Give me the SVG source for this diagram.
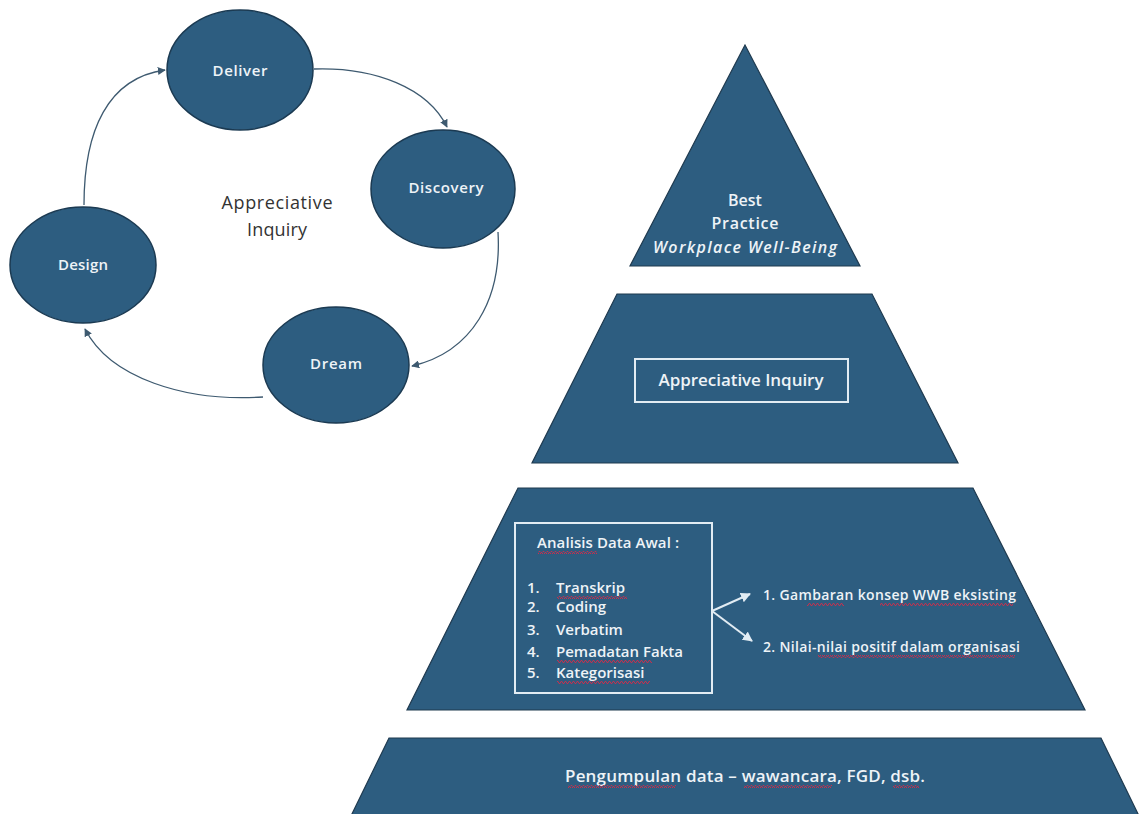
<svg xmlns="http://www.w3.org/2000/svg" width="1139" height="814" viewBox="0 0 1139 814">
<style>
.node{fill:#2d5d80;stroke:#1b3a52;stroke-width:1.5}
.lbl{font-family:"Open Sans","Liberation Sans",sans-serif;fill:#eef3f7;text-anchor:middle;font-weight:600}
.dark{font-family:"Open Sans","Liberation Sans",sans-serif;fill:#333;text-anchor:middle;font-size:18px}
.layer{fill:#2d5d80;stroke:#1f3a4f;stroke-width:1.2}
.wt{font-family:"Open Sans","Liberation Sans",sans-serif;fill:#eef3f7;font-weight:600}
.box{fill:none;stroke:#e2ecf3;stroke-width:2}
.conn{fill:none;stroke:#3e5a70;stroke-width:1.3}
.warr{fill:none;stroke:#e2ecf3;stroke-width:2}
.sq{fill:url(#wave)}
</style>
<defs>
<marker id="ah" viewBox="0 0 10 10" refX="9" refY="5" markerWidth="8" markerHeight="8" markerUnits="userSpaceOnUse" orient="auto">
<path d="M0,0 L10,5 L0,10 z" fill="#3e5a70"/>
</marker>
<marker id="wah" viewBox="0 0 10 10" refX="9" refY="5" markerWidth="10" markerHeight="10" markerUnits="userSpaceOnUse" orient="auto">
<path d="M0,0 L10,5 L0,10 z" fill="#e2ecf3"/>
</marker>
<pattern id="wave" width="4" height="3" patternUnits="userSpaceOnUse">
<path d="M0,2.5 L1,0.5 L2,0.5 L3,2.5 L4,2.5" fill="none" stroke="#c4304e" stroke-width="1"/>
</pattern>
</defs>
<rect width="1139" height="814" fill="#ffffff"/>

<g id="connectors">
<path class="conn" d="M314,69 C375,67 428,88 447,127" marker-end="url(#ah)"/>
<path class="conn" d="M498,232 C502,300 472,352 412,366" marker-end="url(#ah)"/>
<path class="conn" d="M263,397 C185,402 110,378 85,329" marker-end="url(#ah)"/>
<path class="conn" d="M84,205 C84,130 108,78 165,70" marker-end="url(#ah)"/>
</g>

<g id="deliver"><ellipse class="node" cx="240" cy="70" rx="73" ry="60"/><text class="lbl" x="240" y="76" font-size="15" textLength="55">Deliver</text></g>
<g id="discovery"><ellipse class="node" cx="443" cy="189" rx="72" ry="59"/><text class="lbl" x="446" y="193" font-size="15" textLength="75">Discovery</text></g>
<g id="design"><ellipse class="node" cx="83" cy="265" rx="73" ry="58"/><text class="lbl" x="83" y="270" font-size="15" textLength="50">Design</text></g>
<g id="dream"><ellipse class="node" cx="336" cy="365" rx="73" ry="58"/><text class="lbl" x="336" y="369" font-size="15" textLength="52">Dream</text></g>
<g id="center-label"><text class="dark" x="277" y="209" textLength="111">Appreciative</text><text class="dark" x="277" y="236" textLength="60">Inquiry</text></g>

<g id="layer-top">
<polygon class="layer" points="745,45 630,266 860,266"/>
<text class="lbl" x="745" y="206" font-size="16">Best</text>
<text class="lbl" x="745" y="229" font-size="16" textLength="67">Practice</text>
<text class="lbl" x="745" y="253" font-size="16" font-style="italic" textLength="184">Workplace Well-Being</text>
</g>

<g id="layer-ai">
<polygon class="layer" points="617,294 872,294 958,463 532,463"/>
<rect class="box" x="635" y="359" width="213" height="43"/>
<text class="lbl" x="741" y="386" font-size="17" textLength="165">Appreciative Inquiry</text>
</g>

<g id="layer-analysis">
<polygon class="layer" points="518,488 973,488 1085,710 407,710"/>
<rect class="box" x="515" y="523" width="197" height="170"/>
<text class="wt" x="537" y="548" font-size="15" textLength="142">Analisis Data Awal :</text>
<text class="wt" font-size="15">
<tspan x="527" y="593">1.</tspan><tspan x="556" y="593">Transkrip</tspan>
<tspan x="527" y="612">2.</tspan><tspan x="556" y="612">Coding</tspan>
<tspan x="527" y="635">3.</tspan><tspan x="556" y="635">Verbatim</tspan>
<tspan x="527" y="657">4.</tspan><tspan x="556" y="657">Pemadatan Fakta</tspan>
<tspan x="527" y="678">5.</tspan><tspan x="556" y="678">Kategorisasi</tspan>
</text>
<path class="warr" d="M712,611 L750,594" marker-end="url(#wah)"/>
<path class="warr" d="M712,611 L752,641" marker-end="url(#wah)"/>
<text class="wt" x="763" y="600" font-size="14" textLength="253">1. Gambaran konsep WWB eksisting</text>
<text class="wt" x="763" y="652" font-size="14" textLength="257">2. Nilai-nilai positif dalam organisasi</text>
<rect class="sq" x="538" y="551" width="59" height="3"/>
<rect class="sq" x="557" y="596" width="70" height="3"/>
<rect class="sq" x="557" y="660" width="95" height="3"/>
<rect class="sq" x="557" y="681" width="93" height="3"/>
<rect class="sq" x="807" y="603" width="37" height="3"/>
<rect class="sq" x="880" y="603" width="133" height="3"/>
<rect class="sq" x="818" y="655" width="197" height="3"/>
</g>

<g id="layer-data">
<polygon class="layer" points="389,738 1101,738 1141,820 349,820"/>
<text class="lbl" x="745" y="782" font-size="17" textLength="360">Pengumpulan data – wawancara, FGD, dsb.</text>
<rect class="sq" x="568" y="785" width="108" height="3"/>
<rect class="sq" x="744" y="785" width="88" height="3"/>
<rect class="sq" x="893" y="785" width="26" height="3"/>
</g>
</svg>
